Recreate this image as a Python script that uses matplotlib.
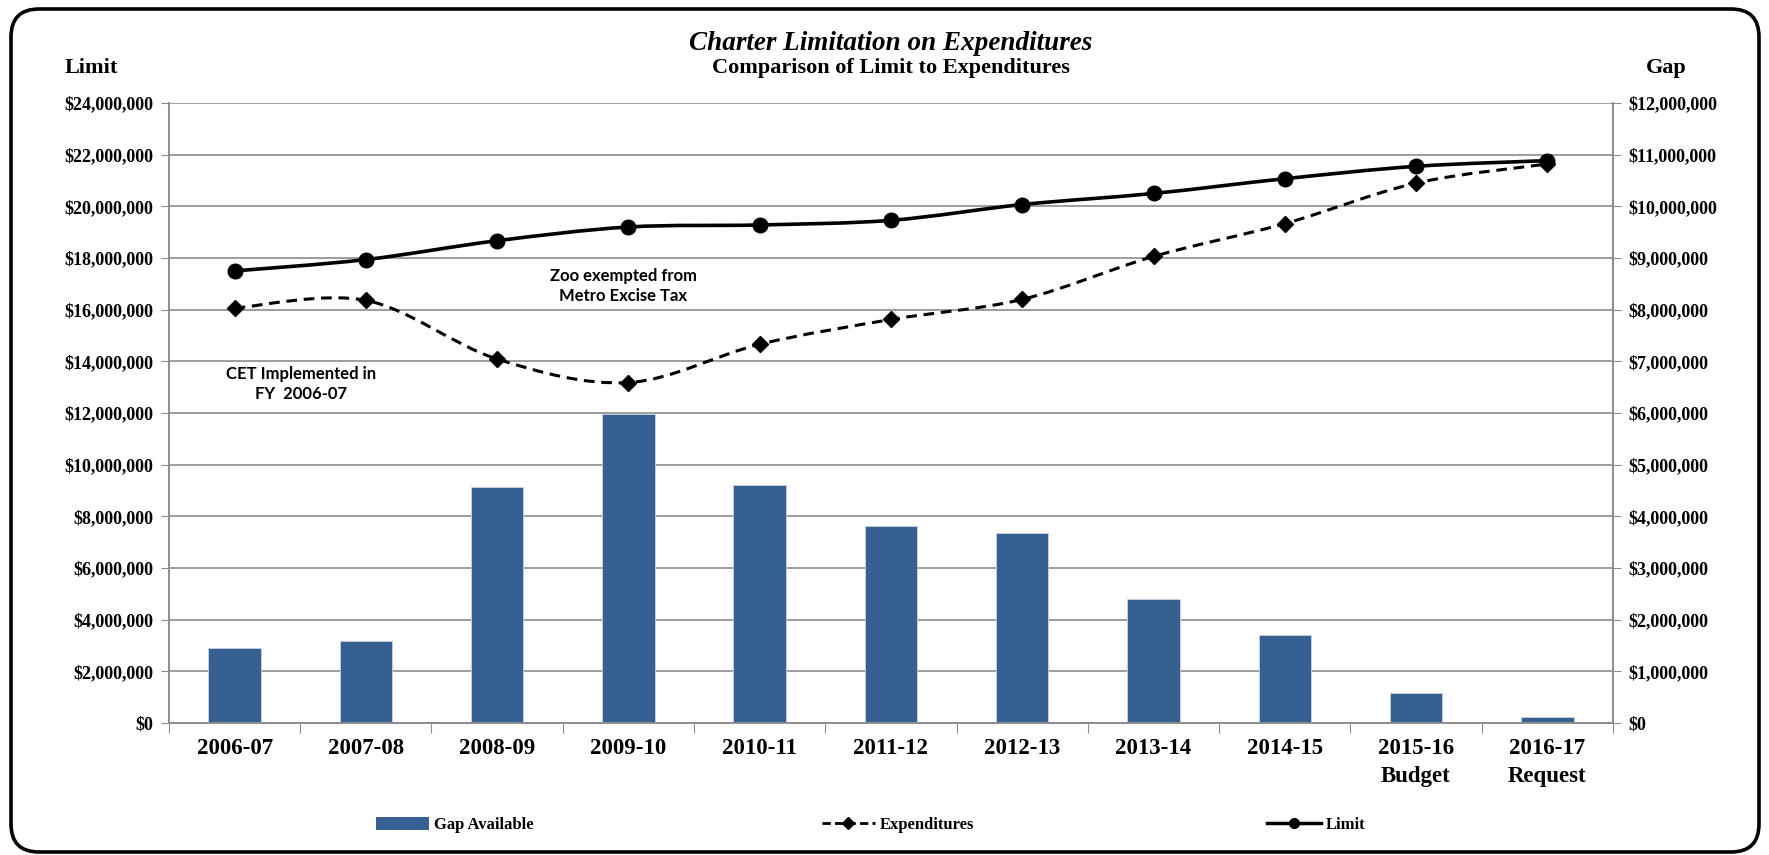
import numpy as np
import matplotlib
matplotlib.use("Agg")
import matplotlib.pyplot as plt
from matplotlib.path import Path
from matplotlib.patches import PathPatch, FancyBboxPatch, Patch
from matplotlib.lines import Line2D
from matplotlib.ticker import FuncFormatter, MultipleLocator

years = ["2006-07", "2007-08", "2008-09", "2009-10", "2010-11", "2011-12",
         "2012-13", "2013-14", "2014-15", "2015-16\nBudget", "2016-17\nRequest"]
limit = [17.50, 17.94, 18.67, 19.20, 19.28, 19.46, 20.07, 20.50, 21.07, 21.55, 21.77]
expenditures = [16.06, 16.36, 14.09, 13.18, 14.66, 15.62, 16.40, 18.06, 19.33, 20.90, 21.64]
gap = [1.46, 1.59, 4.56, 5.98, 4.60, 3.82, 3.67, 2.40, 1.70, 0.59, 0.11]

limit = [v * 1e6 for v in limit]
expenditures = [v * 1e6 for v in expenditures]
gap = [v * 1e6 for v in gap]

serif = "Liberation Serif"
bar_color = "#376092"
grid_color = "#8c8c8c"


def smooth_path(xs, ys):
    # excel-like smoothed line: catmull-rom turned into bezier segments
    verts = [(xs[0], ys[0])]
    codes = [Path.MOVETO]
    n = len(xs)
    for i in range(n - 1):
        xp, yp = (xs[i - 1], ys[i - 1]) if i > 0 else (xs[i], ys[i])
        xn, yn = (xs[i + 2], ys[i + 2]) if i + 2 < n else (xs[i + 1], ys[i + 1])
        c1 = (xs[i] + (xs[i + 1] - xp) / 6, ys[i] + (ys[i + 1] - yp) / 6)
        c2 = (xs[i + 1] - (xn - xs[i]) / 6, ys[i + 1] - (yn - ys[i]) / 6)
        verts += [c1, c2, (xs[i + 1], ys[i + 1])]
        codes += [Path.CURVE4] * 3
    return Path(verts, codes)


fig = plt.figure(figsize=(17.69, 8.55), dpi=100)
ax2 = fig.add_axes([0.0955, 0.1544, 0.8163, 0.7251])
ax = ax2.twinx()
ax2.yaxis.tick_right()
ax.yaxis.tick_left()
ax.yaxis.set_label_position("left")
ax.set_zorder(ax2.get_zorder() + 1)
ax.patch.set_visible(False)

x = np.arange(len(years))

# bars on the gap axis (right)
ax2.bar(x, gap, width=0.40, color=bar_color, edgecolor="#c9d3e0", linewidth=0.6, zorder=2)
ax2.set_ylim(0, 12e6)
ax2.yaxis.set_major_locator(MultipleLocator(1e6))
ax2.grid(axis="y", color=grid_color, linewidth=1.2, zorder=0)
ax2.set_axisbelow(True)

# lines on the limit axis (left)
ax.add_patch(PathPatch(smooth_path(x, expenditures), fill=False, edgecolor="black",
                       linewidth=2.2, linestyle=(0, (3.5, 2.2)), zorder=3))
ax.plot(x, expenditures, linestyle="none", marker="D", markersize=8, color="black", zorder=4)
ax.add_patch(PathPatch(smooth_path(x, limit), fill=False, edgecolor="black",
                       linewidth=2.6, zorder=3))
ax.plot(x, limit, linestyle="none", marker="o", markersize=10.5, color="black", zorder=4)
ax.set_ylim(0, 24e6)
ax.yaxis.set_major_locator(MultipleLocator(2e6))

money = FuncFormatter(lambda v, p: "${:,.0f}".format(v))
ax.yaxis.set_major_formatter(money)
ax2.yaxis.set_major_formatter(money)

ax.set_xlim(-0.5, len(years) - 0.5)
ax2.set_xticks(np.arange(-0.5, len(years), 1.0))
ax2.set_xticklabels([])
ax2.set_xticks(x, minor=True)
ax2.set_xticklabels(years, minor=True)
ax2.tick_params(axis="x", which="major", length=7, color=grid_color, direction="out")
ax2.tick_params(axis="x", which="minor", length=0, pad=11)
ax.tick_params(axis="x", which="both", bottom=False, labelbottom=False)

for a in (ax, ax2):
    a.spines["top"].set_visible(False)
    for s in ("left", "right", "bottom"):
        a.spines[s].set_color(grid_color)
        a.spines[s].set_linewidth(1.2)
    a.tick_params(axis="y", length=6, color=grid_color, pad=5)

for lab in ax.get_yticklabels() + ax2.get_yticklabels():
    lab.set_fontfamily(serif)
    lab.set_fontweight("bold")
    lab.set_fontsize(13)
for lab in ax2.get_xticklabels(minor=True):
    lab.set_fontfamily(serif)
    lab.set_fontweight("bold")
    lab.set_fontsize(16.5)
    lab.set_linespacing(1.45)

# titles and axis captions
fig.text(0.5036, 0.949, "Charter Limitation on Expenditures", ha="center", va="center",
         fontfamily=serif, fontweight="bold", fontstyle="italic", fontsize=19.5)
fig.text(0.5036, 0.920, "Comparison of Limit to Expenditures", ha="center", va="center",
         fontfamily=serif, fontweight="bold", fontsize=16)
fig.text(0.0363, 0.920, "Limit", ha="left", va="center",
         fontfamily=serif, fontweight="bold", fontsize=16)
fig.text(0.9305, 0.920, "Gap", ha="left", va="center",
         fontfamily=serif, fontweight="bold", fontsize=16)

# annotations
ax.text(2.96, 16.93e6, "Zoo exempted from\nMetro Excise Tax", ha="center", va="center",
        fontfamily="Lato", fontweight="bold", fontsize=12, linespacing=1.3)
ax.text(0.51, 13.13e6, "CET Implemented in\nFY  2006-07", ha="center", va="center",
        fontfamily="Lato", fontweight="bold", fontsize=12, linespacing=1.3)

# legend spread across the bottom
leg_font = {"family": serif, "weight": "bold", "size": 12}
items = [
    (Patch(facecolor=bar_color), "Gap Available", 0.204),
    (Line2D([], [], color="black", linestyle=(0, (3, 1.5)), linewidth=2, marker="D", markersize=6),
     "Expenditures", 0.456),
    (Line2D([], [], color="black", linewidth=2.5, marker="o", markersize=7), "Limit", 0.708),
]
for h, lbl, xpos in items:
    fig.legend([h], [lbl], loc="center left", bbox_to_anchor=(xpos, 0.035), frameon=False,
               prop=leg_font, handlelength=3.2, handletextpad=0.3, handleheight=0.8)

# rounded border around the whole picture
border = FancyBboxPatch((0.11, 0.03), 17.48, 8.43, boxstyle="round,pad=0,rounding_size=0.28",
                        transform=fig.dpi_scale_trans, fill=False, edgecolor="black",
                        linewidth=2.6)
fig.patches.append(border)

fig.savefig("out.png", dpi=100)
